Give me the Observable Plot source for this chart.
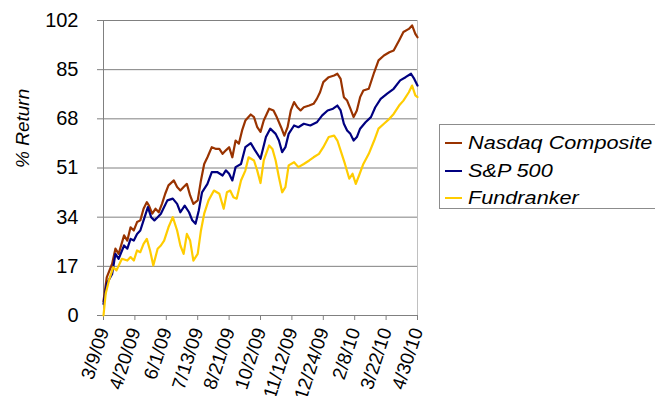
<!DOCTYPE html>
<html><head><meta charset="utf-8">
<script src="https://cdn.jsdelivr.net/npm/d3@7"></script>
<script src="https://cdn.jsdelivr.net/npm/@observablehq/plot@0.6"></script>
<style>
html,body{margin:0;padding:0;background:#fff;overflow:hidden;}
#wrap{position:relative;width:655px;height:396px;font-family:"Liberation Sans",Arial,sans-serif;}
#wrap svg{position:absolute;left:0;top:0;}
#legend{position:absolute;left:439px;top:124px;width:240px;height:85px;border:1px solid #8c8c8c;box-sizing:border-box;background:#fff;}
.item{position:absolute;left:5px;height:22px;display:flex;align-items:center;font-style:italic;font-size:19px;color:#000;white-space:nowrap;}
.sw{display:inline-block;width:17px;height:2px;margin-right:6px;}
.lt{display:inline-block;transform:scaleX(1.14);transform-origin:left center;}
</style></head><body><div id="wrap"><div id="legend"></div></div>
<script>
// Trading-day index (0 = 3/9/09 ... 290 = 4/30/10) and % return
const nasdaqDay = [0,3,8,11,14,19,22,25,28,31,34,37,40,42,45,48,51,54,57,60,65,68,71,74,77,80,83,87,90,93,96,100,104,107,110,113,116,119,122,125,128,131,136,139,142,145,148,153,157,160,164,167,170,173,176,179,182,185,190,194,197,200,203,208,213,216,219,222,225,228,231,234,237,240,245,250,254,259,264,268,273,277,282,285,288,290];
const nasdaqReturn = [5,13.2,17.9,23.1,21.3,27.7,25.9,30.5,29.4,32.3,32.9,36.9,39.2,38.0,35.2,36.9,35.7,38.6,42.1,45.0,46.7,44.4,43.2,44.4,45.5,41.5,38.6,39.8,46.7,52.4,54.7,58.2,57.6,57.6,55.9,57.1,58.2,54.7,60.5,59.4,64.0,67.4,69.5,68.6,65.1,63.5,67.4,71.5,70.9,68.6,65.1,62.2,65.1,70.9,73.8,72.0,70.9,72.0,72.6,73.2,74.9,77.2,80.7,82.4,83.0,83.6,81.8,75.5,74.3,71.5,68.6,70.9,75.5,77.8,78.4,84.1,88.2,89.9,91.0,91.6,95.1,98.0,99.1,100.3,97.4,96.2];

const spDay = [0,3,8,11,14,19,22,25,28,31,34,37,41,44,47,50,53,56,59,64,68,71,75,79,82,85,88,91,96,100,105,110,113,116,119,122,127,131,136,140,145,150,154,159,162,165,168,171,176,180,185,191,197,202,207,212,216,219,222,225,228,231,234,237,242,247,251,256,262,268,274,279,284,287,290];
const spReturn = [4,11.0,14.4,21.3,19.6,24.2,23.1,26.5,25.9,28.2,29.4,32.9,37.5,34.0,32.9,34.0,35.2,37.5,39.8,40.4,38.6,35.7,38.0,35.7,32.9,31.7,36.3,42.6,45.5,49.6,49.6,48.4,50.2,49.0,46.7,51.3,52.4,58.2,59.6,57.1,54.2,61.7,64.6,62.8,60.5,56.5,58.2,62.8,65.7,65.1,66.3,65.7,66.8,69.2,70.9,71.5,72.6,70.9,66.3,64.0,62.8,60.5,61.7,64.6,66.8,68.6,72.0,74.9,76.7,78.4,81.3,82.4,83.6,81.8,79.5];

const fundDay = [0,2,5,9,12,17,22,25,28,31,34,37,40,43,46,50,53,56,60,64,68,71,74,77,80,83,87,90,93,97,102,107,111,114,117,120,123,127,131,134,139,142,145,148,153,156,159,162,165,168,171,176,180,185,190,194,199,203,208,213,216,220,223,227,230,233,236,240,245,250,254,259,264,268,273,277,282,285,288,290];
const fundReturn = [0,7.5,12.1,16.7,15.6,19.6,19.0,20.2,19.0,22.5,21.9,24.8,26.5,22.5,17.3,23.1,24.2,25.9,30.5,34.0,29.4,24.2,21.3,28.2,25.9,19.0,21.3,29.4,35.2,39.8,43.2,42.1,36.9,42.6,43.2,40.9,40.4,46.7,50.1,54.7,53.6,50.1,45.8,53.6,58.8,57.6,53.6,47.8,42.6,44.4,51.9,53.0,51.3,52.4,53.6,54.7,55.9,58.2,61.7,62.2,60.5,55.9,52.4,47.3,49.0,45.5,48.4,52.4,55.9,60.5,64.6,66.3,68.0,69.7,72.6,74.3,77.2,79.5,76.1,75.5];

const seriesNames = ["Nasdaq Composite","S&P 500","Fundranker"];
const seriesColors = ["#993300","#000080","#FFCC00"];
const xTickDays = [0,29,58,87,116,145,174,203,232,261,290];
const xTickLabels = ["3/9/09","4/20/09","6/1/09","7/13/09","8/21/09","10/2/09","11/12/09","12/24/09","2/8/10","3/22/10","4/30/10"];
const yTicks = [0,17,34,51,68,85,102];

const seriesData = [[nasdaqDay,nasdaqReturn],[spDay,spReturn],[fundDay,fundReturn]];
const rows = seriesData.flatMap(([days,vals],k) => days.map((d,i) => ({series: seriesNames[k], day: d, ret: vals[i]})));
const labelByDay = new Map(xTickDays.map((d,i)=>[d, xTickLabels[i]]));

const chart = Plot.plot({
  width: 655, height: 396,
  marginLeft: 103, marginRight: 238, marginTop: 20, marginBottom: 81,
  style: {fontFamily: "Liberation Sans, Arial, sans-serif", fontSize: "18px", color: "#000", background: "transparent"},
  x: {domain: [0, 290]},
  y: {domain: [0, 102]},
  color: {domain: seriesNames, range: seriesColors},
  marks: [
    Plot.gridY(yTicks, {stroke: "#808080", strokeOpacity: 1}),
    Plot.ruleX([290], {stroke: "#c0c0c0"}),
    Plot.ruleX([0], {stroke: "#808080"}),
    Plot.ruleY([0], {stroke: "#808080"}),
    Plot.axisY(yTicks, {tickSize: 6, tickPadding: 19, fontSize: 20, label: null, stroke: "#808080"}),
    Plot.axisX(xTickDays, {tickSize: 5, tickPadding: 8, tickRotate: -72, tickFormat: d => labelByDay.get(d), fontSize: 19, label: null, stroke: "#808080"}),
    Plot.text(["% Return"], {frameAnchor: "left", dx: -81, rotate: -90, fontStyle: "italic", fontSize: 19}),
    Plot.line(rows, {x: "day", y: "ret", z: "series", stroke: "series", strokeWidth: 2.2})
  ]
});
const wrap = document.getElementById("wrap");
wrap.insertBefore(chart, wrap.firstChild);

const legend = document.getElementById("legend");
const rowTops = [7, 35, 62];
seriesNames.forEach((name, k) => {
  const it = document.createElement("div");
  it.className = "item";
  it.style.top = rowTops[k] + "px";
  const sw = document.createElement("span");
  sw.className = "sw";
  sw.style.background = seriesColors[k];
  it.appendChild(sw);
  const t = document.createElement("span");
  t.className = "lt";
  t.textContent = name;
  it.appendChild(t);
  legend.appendChild(it);
});
</script></body></html>
